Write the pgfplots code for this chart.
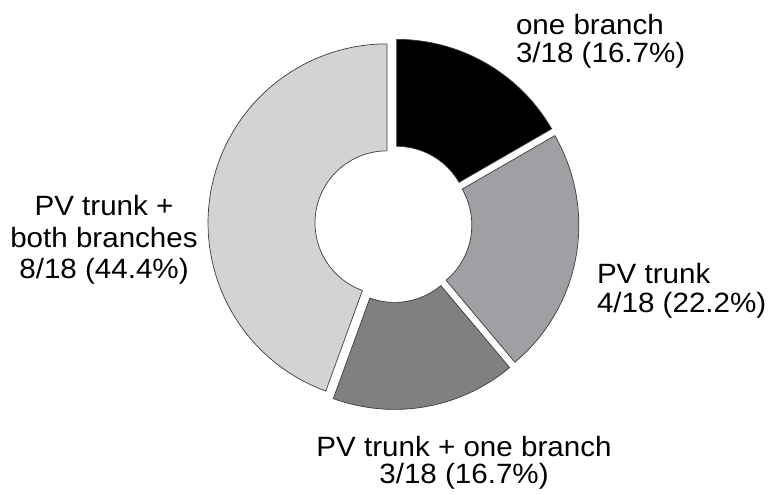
\documentclass[border=0pt]{standalone}
\usepackage{pgfplots}
\pgfplotsset{compat=1.18}
\usepackage{fontspec}
\setmainfont{Liberation Sans}
\definecolor{sliceA}{RGB}{0,0,0}
\definecolor{sliceB}{RGB}{160,160,164}
\definecolor{sliceC}{RGB}{128,128,128}
\definecolor{sliceD}{RGB}{211,211,211}
\definecolor{edge}{RGB}{60,60,60}
\tikzset{lbl/.style={font=\fontsize{28}{30}\selectfont, inner sep=0pt, outer sep=0pt, xscale=1.06}}
% donut slice: #1 = cumulative count before slice, #2 = count of slice (total 18)
\newcommand\donut[3]{%
  \addplot[fill=#3, draw=edge, line width=0.7bp, variable=\t, domain=0:4, samples=241]
  ({393.4 + 6.5*cos(90-20*(#1+#2/2)) + rr(\t)*cos(ang(\t,#1,#1+#2))},
   {271 + 6.5*sin(90-20*(#1+#2/2)) + rr(\t)*sin(ang(\t,#1,#1+#2))}) -- cycle;
}
\begin{document}
\begin{tikzpicture}
\begin{axis}[
  hide axis, scale only axis, width=771bp, height=495bp,
  xmin=0, xmax=771, ymin=0, ymax=495, clip=false,
  declare function={
    rr(\t)= (\t<1) ? 179 : ((\t<2) ? 179-(\t-1)*107 : ((\t<3) ? 72 : 72+(\t-3)*107));
    ang(\t,\p,\q)= 90-20*((\t<1) ? \p+\t*(\q-\p) : ((\t<2) ? \q : ((\t<3) ? \q+(\t-2)*(\p-\q) : \p)));
  },
]
\donut{0}{3}{sliceA}
\donut{3}{4}{sliceB}
\donut{7}{3}{sliceC}
\donut{10}{8}{sliceD}

\node[lbl, anchor=base west] at (axis cs:516,460) {one branch};
\node[lbl, anchor=base west] at (axis cs:516,432) {3/18 (16.7\%)};
\node[lbl, anchor=base west] at (axis cs:597,211) {PV trunk};
\node[lbl, anchor=base west] at (axis cs:597,182) {4/18 (22.2\%)};
\node[lbl, anchor=base] at (axis cs:464,38) {PV trunk + one branch};
\node[lbl, anchor=base] at (axis cs:464,12) {3/18 (16.7\%)};
\node[lbl, anchor=base] at (axis cs:104,279) {PV trunk +};
\node[lbl, anchor=base] at (axis cs:104,247) {both branches};
\node[lbl, anchor=base] at (axis cs:104,216) {8/18 (44.4\%)};
\end{axis}
\pgfresetboundingbox
\path[use as bounding box] (current axis.south west) rectangle (current axis.north east);
\end{tikzpicture}
\end{document}
